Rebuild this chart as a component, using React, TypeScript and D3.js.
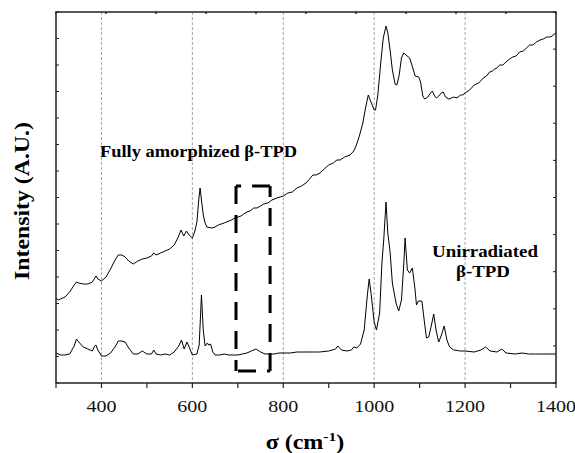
import React from "react";
import * as d3 from "d3";

// [Raman shift (cm^-1), intensity (arbitrary units)] — unirradiated β-TPD
const unirradiated: [number, number][] = [
  [300,30],[310,28],[320,28],[330,29],[340,37],[345,44],[350,41],[360,36],[370,34],[380,32],[385,37],[388,38],[392,33],[400,27],
  [410,27],[420,30],[430,36],[437,42],[445,42],[452,41],[460,35],[470,29],[480,29],[490,32],[500,29],[510,29],[515,33],[520,29],
  [530,28],[540,29],[550,28],[560,31],[570,37],[576,43],[582,34],[588,41],[592,37],[600,28],[610,29],[615,38],[620,88],[624,53],
  [628,37],[633,40],[636,38],[640,39],[645,31],[650,28],[660,28],[670,29],[680,28],[690,28],[700,28],[710,29],[720,30],[730,32],
  [740,34],[750,31],[760,29],[770,29],[780,29],[790,30],[800,30],[815,30],[830,31],[850,31],[865,31],[880,31],[900,32],[915,34],
  [920,37],[928,33],[940,32],[950,33],[955,36],[962,35],[970,39],[978,53],[985,88],[989,104],[993,90],[1000,61],[1005,53],
  [1012,70],[1017,120],[1021,143],[1026,181],[1030,150],[1035,131],[1040,100],[1048,80],[1054,72],[1060,83],[1065,118],
  [1068,145],[1073,113],[1078,110],[1084,115],[1090,93],[1093,78],[1097,82],[1105,82],[1110,63],[1115,45],[1120,46],[1126,58],
  [1131,69],[1136,53],[1142,41],[1148,48],[1154,57],[1160,43],[1166,36],[1175,33],[1190,32],[1200,32],[1220,31],[1235,33],
  [1245,36],[1255,32],[1270,31],[1281,34],[1290,30],[1310,29],[1325,30],[1340,29],[1355,29],[1370,29],[1385,29],[1400,29],
];

// Fully amorphized β-TPD
const amorphized: [number, number][] = [
  [300,85],[305,83],[310,84],[320,86],[330,91],[340,98],[345,101],[350,100],[360,99],[370,99],[380,101],[388,107],[392,104],
  [400,102],[410,106],[420,114],[430,123],[437,128],[445,128],[452,126],[460,122],[470,119],[480,122],[490,124],[500,125],
  [510,127],[515,130],[520,128],[530,130],[540,132],[550,134],[560,138],[568,145],[575,153],[581,147],[587,152],[593,148],
  [600,145],[605,151],[610,161],[614,183],[617,195],[620,183],[624,168],[628,160],[632,156],[643,155],[650,156],[657,158],
  [670,160],[686,163],[693,165],[700,166],[707,167],[713,169],[720,171],[727,172],[735,175],[742,175],[750,177],[757,179],
  [766,180],[775,183],[786,185],[793,186],[800,187],[810,190],[820,191],[830,195],[840,197],[850,200],[858,204],[865,208],
  [872,208],[881,210],[890,214],[900,218],[910,220],[918,223],[925,223],[935,226],[947,228],[955,232],[961,238],[968,248],
  [975,260],[981,275],[987,288],[993,281],[1000,273],[1003,273],[1008,288],[1015,323],[1020,345],[1026,357],[1030,350],
  [1035,333],[1040,313],[1046,299],[1050,298],[1055,308],[1060,325],[1065,330],[1070,328],[1078,325],[1085,315],[1090,307],
  [1098,306],[1102,301],[1107,287],[1111,284],[1118,286],[1124,290],[1128,292],[1133,287],[1137,285],[1142,287],[1148,290],
  [1152,291],[1157,286],[1164,284],[1170,285],[1175,286],[1182,285],[1190,288],[1195,288],[1200,290],[1210,293],[1220,298],
  [1230,300],[1240,305],[1247,307],[1254,311],[1260,312],[1265,314],[1270,315],[1276,318],[1283,318],[1290,321],[1298,324],
  [1305,326],[1312,327],[1320,331],[1328,332],[1335,335],[1342,338],[1349,338],[1357,341],[1365,343],[1372,344],[1380,346],
  [1386,346],[1392,347],[1396,349],[1400,350],
];

const xTicksMajor = [400, 600, 800, 1000, 1200, 1400];
const xTicksAll = d3.range(300, 1401, 100);
const gridAt = [400, 600, 800, 1000, 1200];
const labelAmor = "Fully amorphized β-TPD";
const labelUnirr1 = "Unirradiated";
const labelUnirr2 = "β-TPD";
const boxShift = [696, 771];
const boxInt = [12, 197];

const W = 575, H = 453;
const L = 56, R = 556, T = 12, B = 383;
const serif = "Liberation Serif";

export default function App() {
  const x = d3.scaleLinear().domain([300, 1400]).range([L, R]);
  const y = d3.scaleLinear().domain([0, 371]).range([B, T]);
  const xTop = d3.scaleLinear().domain([0, 10]).range([L, R]);
  const leftTicks = d3.range(0, 15).map((i) => (i * 371) / 14);
  const rightTicks = d3.range(0, 11).map((i) => (i * 371) / 10);

  const mk = (data: [number, number][]) =>
    d3
      .line<[number, number]>()
      .x((d) => x(d[0]))
      .y((d) => y(d[1]))(data) || "";

  const bx0 = x(boxShift[0]), bx1 = x(boxShift[1]);
  const by0 = y(boxInt[1]), by1 = y(boxInt[0]);
  const axisC = "#222";

  return (
    <svg width={W} height={H} style={{ position: "absolute", left: 0, top: 0, background: "#fff" }}>
      {gridAt.map((g) => (
        <line key={g} x1={x(g)} x2={x(g)} y1={T} y2={B} stroke="#9a9a9a" strokeWidth={0.9} strokeDasharray="3,2" />
      ))}
      <path d={mk(unirradiated)} fill="none" stroke="#000" strokeWidth={1} />
      <path d={mk(amorphized)} fill="none" stroke="#000" strokeWidth={1} />
      <g stroke="#000" strokeWidth={3} strokeDasharray="18,11" fill="none">
        <line x1={bx0} y1={by0} x2={bx0} y2={by1} />
        <line x1={bx1} y1={by1} x2={bx1} y2={by0} />
        <line x1={bx1} y1={by0} x2={bx0} y2={by0} />
        <line x1={bx0 + 2} y1={by1} x2={bx1} y2={by1} />
      </g>
      <rect x={L} y={T} width={R - L} height={B - T} fill="none" stroke={axisC} strokeWidth={1.5} />
      {leftTicks.map((t, i) => (
        <line key={"l" + i} x1={L} x2={L + 3} y1={y(t)} y2={y(t)} stroke={axisC} strokeWidth={1} />
      ))}
      {rightTicks.map((t, i) => (
        <line key={"r" + i} x1={R} x2={R - 3} y1={y(t)} y2={y(t)} stroke={axisC} strokeWidth={1} />
      ))}
      {d3.range(0, 11).map((t) => (
        <line key={"t" + t} x1={xTop(t)} x2={xTop(t)} y1={T} y2={T + 2} stroke={axisC} strokeWidth={1.5} />
      ))}
      {xTicksAll.map((t) => (
        <line key={"b" + t} x1={x(t)} x2={x(t)} y1={B} y2={B + 5} stroke={axisC} strokeWidth={1.2} />
      ))}
      {xTicksMajor.map((t) => (
        <text key={"bl" + t} x={x(t)} y={412} textAnchor="middle" fontFamily={serif} fontSize={17}
          textLength={String(t).length * 10} lengthAdjust="spacingAndGlyphs" fill="#111">
          {t}
        </text>
      ))}
      <g transform="translate(305,449) scale(1.2,1)">
        <text textAnchor="middle" fontFamily={serif} fontSize={20} fontWeight="bold" fill="#000">
          σ (cm<tspan fontSize={13} dy={-8}>-1</tspan><tspan dy={8}>)</tspan>
        </text>
      </g>
      <text transform="translate(29,201) rotate(-90)" textAnchor="middle" fontFamily={serif} fontSize={20}
        fontWeight="bold" textLength={158} lengthAdjust="spacingAndGlyphs" fill="#000">
        Intensity (A.U.)
      </text>
      <text x={100} y={157} fontFamily={serif} fontSize={17} fontWeight="bold" textLength={197}
        lengthAdjust="spacingAndGlyphs" fill="#000">
        {labelAmor}
      </text>
      <text x={432} y={257} fontFamily={serif} fontSize={17} fontWeight="bold" textLength={106}
        lengthAdjust="spacingAndGlyphs" fill="#000">
        {labelUnirr1}
      </text>
      <text x={456} y={277} fontFamily={serif} fontSize={17} fontWeight="bold" textLength={54}
        lengthAdjust="spacingAndGlyphs" fill="#000">
        {labelUnirr2}
      </text>
    </svg>
  );
}
